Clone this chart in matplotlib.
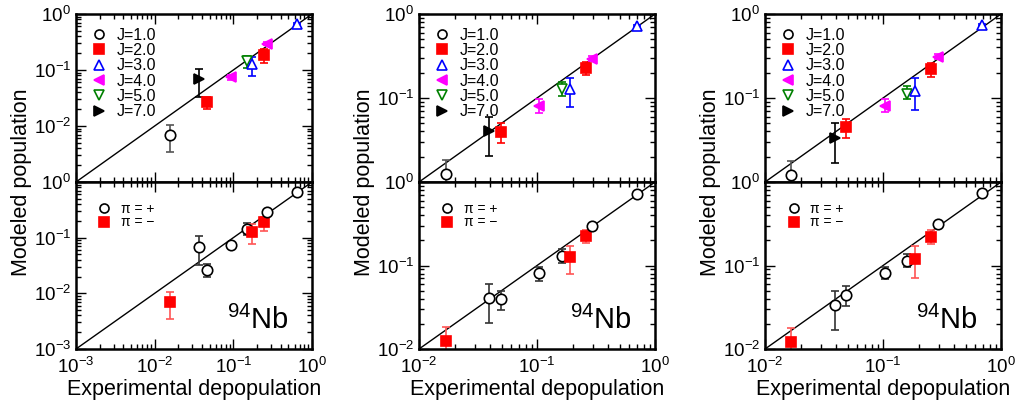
import numpy as np
import matplotlib
matplotlib.use("Agg")
import matplotlib.pyplot as plt
from matplotlib.lines import Line2D

plt.rcParams['font.family'] = ['Liberation Sans', 'DejaVu Sans']
plt.rcParams['mathtext.fontset'] = 'custom'
plt.rcParams['mathtext.rm'] = 'Liberation Sans'
plt.rcParams['mathtext.it'] = 'Liberation Sans:italic'

# levels, same order in every column
J = [1, 7, 2, 4, 5, 3, 2, 4, 3]
parity = ['-', '+', '+', '+', '+', '-', '-', '+', '+']

# left column
x_a = [0.0155, 0.0365, 0.0457, 0.0944, 0.148, 0.175, 0.242, 0.267, 0.646]
y_a = [0.0069, 0.069, 0.0268, 0.074, 0.145, 0.128, 0.188, 0.295, 0.663]
lo_a = [0.0034, 0.0325, 0.020, 0.067, 0.11, 0.077, 0.132, 0.275, 0.645]
hi_a = [0.0105, 0.105, 0.0334, 0.082, 0.18, 0.173, 0.24, 0.318, 0.68]

# middle column
x_b = [0.0168, 0.0392, 0.0496, 0.104, 0.162, 0.19, 0.259, 0.293, 0.708]
y_b = [0.0124, 0.0405, 0.0392, 0.081, 0.129, 0.127, 0.228, 0.295, 0.722]
lo_b = [0.0085, 0.0204, 0.029, 0.066, 0.106, 0.079, 0.186, 0.275, 0.70]
hi_b = [0.0183, 0.06, 0.05, 0.097, 0.156, 0.172, 0.266, 0.318, 0.745]

# right column
x_c = [0.0165, 0.0392, 0.0486, 0.103, 0.159, 0.187, 0.255, 0.29, 0.695]
y_c = [0.0122, 0.0332, 0.0446, 0.081, 0.113, 0.121, 0.22, 0.31, 0.746]
lo_c = [0.0085, 0.0167, 0.033, 0.069, 0.096, 0.071, 0.18, 0.29, 0.725]
hi_c = [0.018, 0.05, 0.057, 0.097, 0.139, 0.172, 0.263, 0.33, 0.77]

columns = [(x_a, y_a, lo_a, hi_a, 1e-3),
           (x_b, y_b, lo_b, hi_b, 1e-2),
           (x_c, y_c, lo_c, hi_c, 1e-2)]

jstyle = {1: dict(marker='o', mfc='white', mec='black', ecol='#555555'),
          2: dict(marker='s', mfc='red', mec='red', ecol='red'),
          3: dict(marker='^', mfc='white', mec='blue', ecol='blue'),
          4: dict(marker='<', mfc='magenta', mec='magenta', ecol='magenta'),
          5: dict(marker='v', mfc='white', mec='green', ecol='green'),
          7: dict(marker='>', mfc='black', mec='black', ecol='black')}
pstyle = {'+': dict(marker='o', mfc='white', mec='black', ecol='#333333'),
          '-': dict(marker='s', mfc='red', mec='red', ecol='#ff5555')}

fig = plt.figure(figsize=(10.21, 4.09), dpi=100)
lefts = [0.0744, 0.4104, 0.7493]
width = 0.2312


def style_axis(ax, lim):
    ax.set_xscale('log')
    ax.set_yscale('log')
    ax.set_xlim(lim, 1)
    ax.set_ylim(lim, 1)
    ax.plot([lim, 1], [lim, 1], color='black', lw=1, zorder=1)
    ax.tick_params(which='both', direction='in', top=True, right=True,
                   labelsize=13.5, width=1)
    ax.tick_params(axis='x', pad=6)
    ax.tick_params(which='major', length=7)
    ax.tick_params(which='minor', length=3.5)
    for s in ax.spines.values():
        s.set_linewidth(1.8)


def draw(ax, x, y, lo, hi, st, msize):
    ax.errorbar(x, y, yerr=[[y - lo], [hi - y]], fmt='none', ecolor=st['ecol'],
                elinewidth=1.2, capsize=3, capthick=1.2, zorder=2)
    ax.plot(x, y, ls='none', marker=st['marker'], mfc=st['mfc'], mec=st['mec'],
            ms=msize, mew=1.2, zorder=3)


for k, (xs, ys, los, his, lim) in enumerate(columns):
    top = fig.add_axes([lefts[k], 0.555, width, 0.4108])
    bot = fig.add_axes([lefts[k], 0.1467, width, 0.4083])
    style_axis(top, lim)
    style_axis(bot, lim)

    for i in range(len(J)):
        ms = 7.5 if J[i] in (1, 3, 5) else 7
        draw(top, xs[i], ys[i], los[i], his[i], jstyle[J[i]], ms)
        draw(bot, xs[i], ys[i], los[i], his[i], pstyle[parity[i]],
             7.5 if parity[i] == '+' else 7)

    yt = [t for t in [1e-3, 1e-2, 1e-1, 1e0] if t >= lim]
    top.set_yticks(yt[1:])
    bot.set_yticks(yt)
    top.set_xticks(yt)
    bot.set_xticks(yt)
    top.tick_params(labelbottom=False)

    hj = [Line2D([], [], ls='none', marker=jstyle[j]['marker'], mfc=jstyle[j]['mfc'],
                 mec=jstyle[j]['mec'], ms=6.5, mew=1.2) for j in [1, 2, 3, 4, 5, 7]]
    top.legend(hj, ['J=%.1f' % j for j in [1, 2, 3, 4, 5, 7]], loc='upper left',
               frameon=False, fontsize=11.5, labelspacing=0.02, handletextpad=0.5,
               handlelength=1.2, borderaxespad=0.4, borderpad=0.45)

    hp = [Line2D([], [], ls='none', marker=pstyle[p]['marker'], mfc=pstyle[p]['mfc'],
                 mec=pstyle[p]['mec'], ms=6.5, mew=1.2) for p in ['+', '-']]
    bot.legend(hp, ['\u03c0 = +', '\u03c0 = \u2212'], loc='upper left',
               frameon=False, fontsize=10, labelspacing=-0.05, handletextpad=0.6,
               handlelength=1.2, borderaxespad=0.5, borderpad=0.95)

    bot.text(0.9, 0.12, r'$^{94}$Nb', transform=bot.transAxes, ha='right',
             va='baseline', fontsize=21)
    bot.set_xlabel('Experimental depopulation', fontsize=15.5, labelpad=1)
    fig.text(lefts[k] - 0.053, 0.555, 'Modeled population', rotation=90,
             ha='center', va='center', fontsize=15.5)

fig.savefig('out.png', dpi=100)
